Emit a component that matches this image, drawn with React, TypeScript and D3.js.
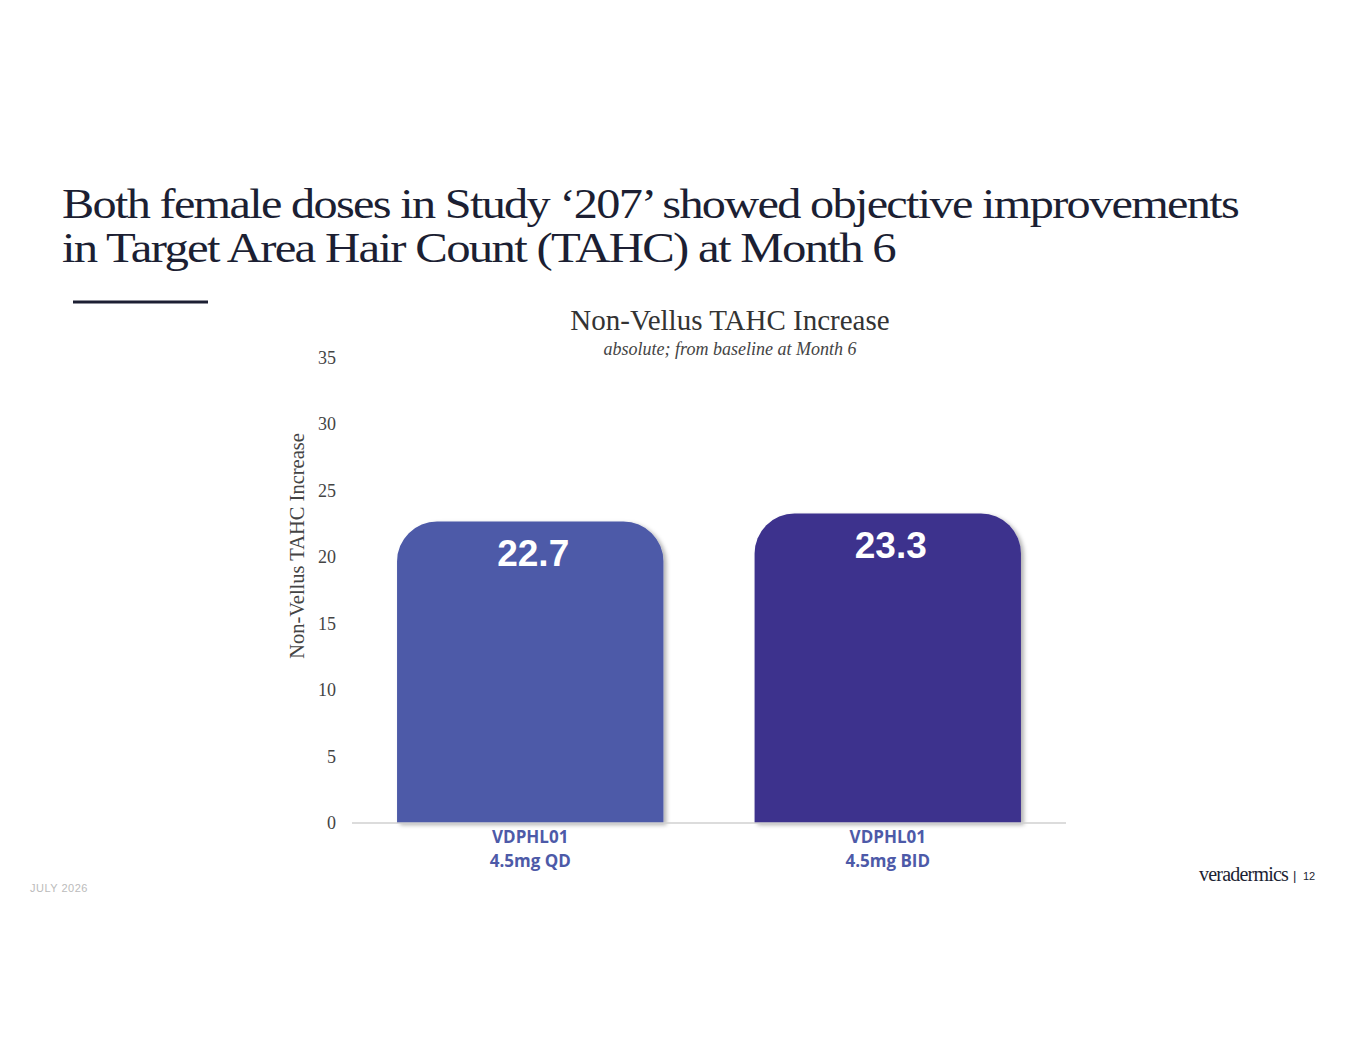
import React from "react";
import * as d3 from "d3";

const categories = ["VDPHL01|4.5mg QD", "VDPHL01|4.5mg BID"];
const values = [22.7, 23.3];
const colors = ["#4d5aa8", "#3c318d"];
const yTicks = [0, 5, 10, 15, 20, 25, 30, 35];

export default function App() {
  const W = 1365, H = 1055;
  const y = d3.scaleLinear().domain([0, 35]).range([823, 358]);
  const x = d3.scaleBand().domain(categories).range([352, 1066]).paddingInner(0.255).paddingOuter(0.126);
  const r = 40;
  const barPath = (x0: number, w: number, top: number, bot: number) => {
    const p = d3.path();
    p.moveTo(x0, bot);
    p.lineTo(x0, top + r);
    p.arcTo(x0, top, x0 + r, top, r);
    p.lineTo(x0 + w - r, top);
    p.arcTo(x0 + w, top, x0 + w, top + r, r);
    p.lineTo(x0 + w, bot);
    p.closePath();
    return p.toString();
  };
  return (
    <svg width={W} height={H} style={{ position: "absolute", left: 0, top: 0 }}>
      <defs>
        <filter id="sh" x="-10%" y="-10%" width="130%" height="130%">
          <feDropShadow dx="3" dy="2" stdDeviation="2" floodColor="#000" floodOpacity="0.3" />
        </filter>
      </defs>
      <rect width={W} height={H} fill="#fff" />
      <g fontFamily="Liberation Serif" fill="#1c1f33" fontSize={43} letterSpacing={-1.5}>
        <text x={62} y={218} textLength={1176} lengthAdjust="spacingAndGlyphs">Both female doses in Study  ‘207’ showed objective improvements</text>
        <text x={62} y={262} textLength={833} lengthAdjust="spacingAndGlyphs">in Target Area Hair Count (TAHC) at Month 6</text>
      </g>
      <line x1={73} x2={208} y1={302} y2={302} stroke="#1c1f33" strokeWidth={3} />
      <text x={730} y={330} textAnchor="middle" fontFamily="Liberation Serif" fontSize={29} fill="#333">Non-Vellus TAHC Increase</text>
      <text x={730} y={355} textAnchor="middle" fontFamily="Liberation Serif" fontStyle="italic" fontSize={18} fill="#444">absolute; from baseline at Month 6</text>
      {yTicks.map(t => (
        <text key={t} x={336} y={y(t) + 6} textAnchor="end" fontFamily="Liberation Serif" fontSize={18} fill="#444">{t}</text>
      ))}
      <text transform={`translate(304,546) rotate(-90)`} textAnchor="middle" fontFamily="Liberation Serif" fontSize={20.5} fill="#444">Non-Vellus TAHC Increase</text>
      {categories.map((c, i) => {
        const x0 = x(c)!, w = x.bandwidth();
        const [l1, l2] = c.split("|");
        return (
          <g key={c}>
            <path d={barPath(x0, w, y(values[i]), y(0))} fill={colors[i]} filter="url(#sh)" />
            <text x={x0 + w / 2 + 3} y={y(values[i]) + 45} textAnchor="middle" fontFamily="Liberation Sans" fontWeight="bold" fontSize={37} fill="#fff">{values[i].toFixed(1)}</text>
            <text x={x0 + w / 2} y={843} textAnchor="middle" fontFamily="Open Sans" fontWeight="bold" fontSize={17} fill="#4d5aa8">{l1}</text>
            <text x={x0 + w / 2} y={867} textAnchor="middle" fontFamily="Open Sans" fontWeight="bold" fontSize={17} fill="#4d5aa8">{l2}</text>
          </g>
        );
      })}
      <line x1={352} x2={1066} y1={y(0)} y2={y(0)} stroke="#d0d0d0" strokeWidth={1.5} />
      <text x={30} y={892} fontFamily="Liberation Sans" fontSize={11} fill="#bbb" letterSpacing={0.5}>JULY 2026</text>
      <text x={1288} y={881} textAnchor="end" fontFamily="Liberation Serif" fontSize={20} fill="#1c1f33" letterSpacing={-0.8}>veradermics</text>
      <text x={1293} y={880} fontFamily="Liberation Sans" fontSize={13} fill="#1c1f33">|</text>
      <text x={1303} y={880} fontFamily="Liberation Sans" fontSize={11} fill="#1c1f33">12</text>
    </svg>
  );
}
